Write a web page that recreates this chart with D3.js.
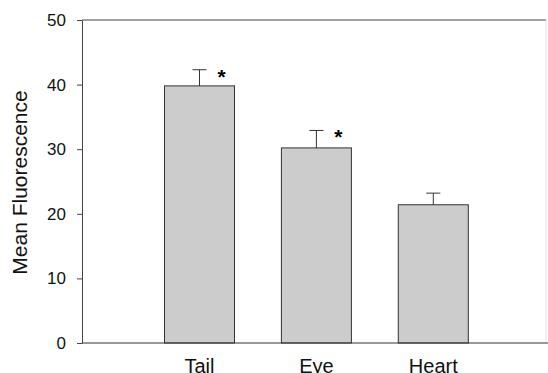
<!DOCTYPE html>
<html>
<head>
<meta charset="utf-8">
<script src="https://cdn.jsdelivr.net/npm/d3@7"></script>
<style>
  body { margin: 0; background: #fff; }
  svg { display: block; font-family: Arial, "Liberation Sans", sans-serif; }
</style>
</head>
<body>
<script>
const categories = ["Tail", "Eye", "Heart"];
const means = [39.8, 30.2, 21.4];
const errors = [2.5, 2.7, 1.8];
const significant = [true, true, false];
const yTicks = [0, 10, 20, 30, 40, 50];

const width = 548, height = 373;
const margin = {top: 20, right: 1, bottom: 30, left: 82};

const svg = d3.select("body").append("svg")
    .attr("width", width)
    .attr("height", height);

// bar centres
const x = d3.scalePoint()
    .domain(categories)
    .range([199.5, 433.3]);

const y = d3.scaleLinear()
    .domain([0, 50])
    .range([height - margin.bottom, margin.top]);

// frame lines (top and right)
svg.append("line")
    .attr("x1", margin.left).attr("x2", width - 2)
    .attr("y1", y(50)).attr("y2", y(50))
    .attr("stroke", "#444").attr("stroke-width", 1);

svg.append("line")
    .attr("x1", width - 2).attr("x2", width - 2)
    .attr("y1", y(50)).attr("y2", y(0))
    .attr("stroke", "#e4e4e4").attr("stroke-width", 1);

// bars
const bw = 70;

svg.selectAll("rect.bar")
    .data(categories)
    .enter().append("rect")
    .attr("class", "bar")
    .attr("x", d => x(d) - bw / 2)
    .attr("y", (d, i) => y(means[i]))
    .attr("width", bw)
    .attr("height", (d, i) => y(0) - y(means[i]))
    .attr("fill", "#cccccc")
    .attr("stroke", "#333")
    .attr("stroke-width", 1);

// error bars
svg.selectAll("line.err")
    .data(categories)
    .enter().append("line")
    .attr("x1", d => x(d)).attr("x2", d => x(d))
    .attr("y1", (d, i) => y(means[i]))
    .attr("y2", (d, i) => y(means[i] + errors[i]))
    .attr("stroke", "#333");

svg.selectAll("line.cap")
    .data(categories)
    .enter().append("line")
    .attr("x1", d => x(d) - 7).attr("x2", d => x(d) + 7)
    .attr("y1", (d, i) => y(means[i] + errors[i]))
    .attr("y2", (d, i) => y(means[i] + errors[i]))
    .attr("stroke", "#333");

// asterisks
svg.selectAll("text.star")
    .data(categories.filter((d, i) => significant[i]))
    .enter().append("text")
    .attr("x", d => x(d) + 22)
    .attr("y", d => y(means[categories.indexOf(d)] + errors[categories.indexOf(d)]) + 14)
    .attr("text-anchor", "middle")
    .attr("font-size", 21)
    .attr("font-weight", "bold")
    .text("*");

// y axis
const yAxis = svg.append("g")
    .attr("transform", "translate(" + margin.left + ",0)")
    .call(d3.axisLeft(y).tickValues(yTicks).tickSize(5).tickSizeOuter(0));
yAxis.select(".domain").attr("stroke", "#444");
yAxis.selectAll(".tick line").attr("stroke", "#444");
yAxis.selectAll(".tick text")
    .attr("font-size", 17)
    .attr("font-family", "Arial, 'Liberation Sans', sans-serif")
    .attr("fill", "#111")
    .attr("x", -16);

// x axis baseline
svg.append("line")
    .attr("x1", margin.left).attr("x2", width)
    .attr("y1", y(0)).attr("y2", y(0))
    .attr("stroke", "#333");

svg.selectAll("text.cat")
    .data(categories)
    .enter().append("text")
    .attr("x", d => x(d))
    .attr("y", y(0) + 29.5)
    .attr("text-anchor", "middle")
    .attr("font-size", 20)
    .attr("fill", "#111")
    .text(d => d);

// y label
svg.append("text")
    .attr("transform", "translate(27," + 182.5 + ") rotate(-90)")
    .attr("text-anchor", "middle")
    .attr("font-size", 21)
    .attr("fill", "#111")
    .text("Mean Fluorescence");
</script>
</body>
</html>
